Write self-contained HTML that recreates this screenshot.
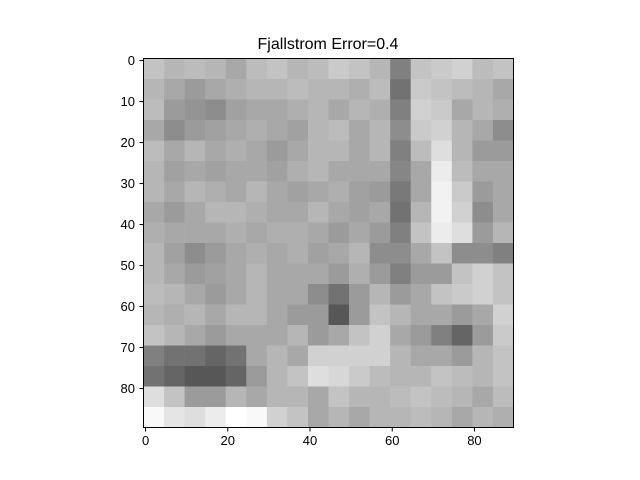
<!DOCTYPE html>
<html><head><meta charset="utf-8"><style>
body{margin:0;background:#fff;}
svg{display:block;font-family:"Liberation Sans",sans-serif;}
</style></head><body>
<svg id="chart" width="640" height="480">
<rect width="640" height="480" fill="#fff"/>
<text x="328" y="49" text-anchor="middle" font-size="16">Fjallstrom Error=0.4</text>
<g id="cells"></g>
<rect x="143.5" y="58.5" width="370" height="369" fill="none" stroke="#000" stroke-width="1"/>
<g id="xt"></g>
<g id="yt"></g>
</svg>
<script>
const gridRows = [
[170,160,165,160,150,165,170,160,165,175,170,160,120,170,175,180,165,170],
[160,150,140,150,155,160,160,165,160,160,155,165,110,175,170,165,160,150],
[165,140,135,130,145,150,150,155,160,150,160,155,120,180,175,150,160,155],
[150,130,140,145,150,155,150,145,160,165,150,160,130,175,180,160,150,130],
[165,150,160,150,155,150,140,150,160,160,150,160,120,165,190,160,140,140],
[160,145,150,145,150,150,145,155,160,150,150,150,125,150,200,165,150,150],
[160,150,160,155,150,160,150,145,150,155,145,140,115,150,205,175,140,150],
[150,140,150,160,160,155,150,150,160,150,145,150,110,160,205,180,130,150],
[155,150,150,150,155,150,155,155,150,140,150,140,120,170,200,190,140,160],
[160,145,130,140,150,155,150,155,145,150,160,130,130,150,170,130,130,120],
[160,150,140,145,150,160,150,150,150,140,155,140,120,140,140,170,180,170],
[165,160,150,140,150,160,150,150,130,110,140,160,140,150,170,175,180,170],
[160,155,160,150,160,160,150,140,140,90,140,170,160,150,150,140,150,180],
[170,160,150,140,150,150,150,160,140,150,170,180,150,140,120,100,140,175],
[120,110,110,100,110,150,160,150,180,180,180,180,160,150,150,140,160,170],
[110,100,90,90,100,140,160,170,190,185,175,165,160,160,170,165,160,170],
[190,170,140,140,160,150,160,160,150,170,160,160,165,170,165,160,150,165],
[210,195,190,200,215,210,180,170,150,160,150,160,160,165,160,150,160,155]
];
const xTicks = [0,20,40,60,80];
const yTicks = [0,10,20,30,40,50,60,70,80];
const N = 90, cellUnits = 5;
const x0 = 143.5, y0 = 58.5, w = 370, h = 369;
const sx = v => x0 + (v + 0.5) / N * w;
const sy = v => y0 + (v + 0.5) / N * h;
const tone = g => Math.max(0, Math.min(255, Math.round(1.35 * (g - 150) + 168)));
const NS = "http://www.w3.org/2000/svg";
const cells = document.getElementById('cells');
gridRows.forEach((row, r) => row.forEach((g, c) => {
  const rect = document.createElementNS(NS, 'rect');
  const xa = sx(c * cellUnits - 0.5), xb = sx((c + 1) * cellUnits - 0.5);
  const ya = sy(r * cellUnits - 0.5), yb = sy((r + 1) * cellUnits - 0.5);
  const v = tone(g);
  rect.setAttribute('x', xa); rect.setAttribute('y', ya);
  rect.setAttribute('width', xb - xa + 0.3); rect.setAttribute('height', yb - ya + 0.3);
  rect.setAttribute('fill', `rgb(${v},${v},${v})`);
  
  
  cells.appendChild(rect);
}));
const xt = document.getElementById('xt');
xTicks.forEach(t => {
  const x = sx(t);
  const l = document.createElementNS(NS, 'line');
  l.setAttribute('x1', x); l.setAttribute('x2', x); l.setAttribute('y1', 427.5); l.setAttribute('y2', 431.5);
  l.setAttribute('stroke', '#000');
  
  
  xt.appendChild(l);
  const tx = document.createElementNS(NS, 'text');
  tx.setAttribute('x', x); tx.setAttribute('y', 445); tx.setAttribute('text-anchor', 'middle'); tx.setAttribute('font-size', '13');
  tx.textContent = t;
  
  
  xt.appendChild(tx);
});
const yt = document.getElementById('yt');
yTicks.forEach(t => {
  const y = sy(t);
  const l = document.createElementNS(NS, 'line');
  l.setAttribute('x1', 139.5); l.setAttribute('x2', 143.5); l.setAttribute('y1', y); l.setAttribute('y2', y);
  l.setAttribute('stroke', '#000');
  
  
  yt.appendChild(l);
  const tx = document.createElementNS(NS, 'text');
  tx.setAttribute('x', 135); tx.setAttribute('y', y + 4.5); tx.setAttribute('text-anchor', 'end'); tx.setAttribute('font-size', '13');
  tx.textContent = t;
  
  
  yt.appendChild(tx);
});
</script>
</body></html>
